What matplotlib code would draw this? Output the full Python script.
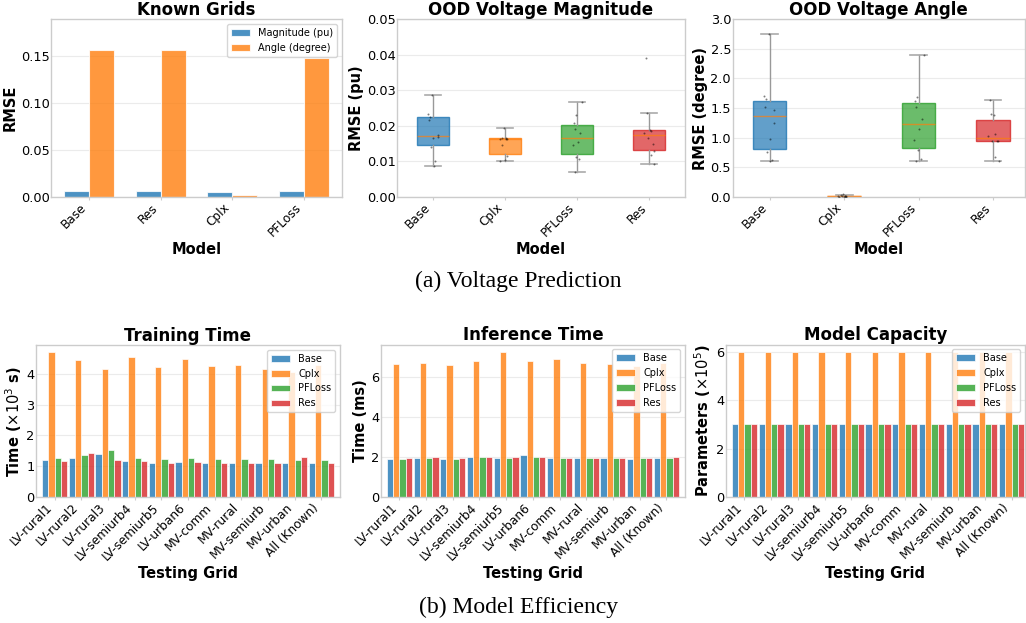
import numpy as np
import matplotlib
matplotlib.use('Agg')
import matplotlib.pyplot as plt
from matplotlib.colors import to_rgba

# ---- data ----
known_models = ['Base', 'Res', 'Cplx', 'PFLoss']
known_mag = [0.0065, 0.0065, 0.0055, 0.0062]
known_ang = [0.157, 0.157, 0.0025, 0.1485]

ood_models = ['Base', 'Cplx', 'PFLoss', 'Res']
mag_base = [0.0087, 0.0101, 0.0141, 0.0165, 0.0169, 0.0174, 0.0216, 0.0226, 0.0232, 0.0287]
mag_cplx = [0.0102, 0.0104, 0.0114, 0.0146, 0.0162, 0.0163, 0.0164, 0.0165, 0.0167, 0.0193]
mag_pfloss = [0.0070, 0.0106, 0.0113, 0.0147, 0.0154, 0.0179, 0.0192, 0.0207, 0.0229, 0.0266]
mag_res = [0.0094, 0.0118, 0.0128, 0.0148, 0.0167, 0.0179, 0.0186, 0.0188, 0.0236, 0.0390]
ang_base = [0.61, 0.62, 0.76, 0.98, 1.25, 1.47, 1.52, 1.65, 1.70, 2.74]
ang_cplx = [0.004, 0.006, 0.008, 0.010, 0.012, 0.014, 0.016, 0.020, 0.030, 0.055]
ang_pfloss = [0.60, 0.64, 0.785, 0.96, 1.15, 1.31, 1.51, 1.61, 1.68, 2.40]
ang_res = [0.615, 0.68, 0.94, 0.94, 0.95, 1.03, 1.06, 1.38, 1.40, 1.63]

grids = ['LV-rural1', 'LV-rural2', 'LV-rural3', 'LV-semiurb4', 'LV-semiurb5',
         'LV-urban6', 'MV-comm', 'MV-rural', 'MV-semiurb', 'MV-urban', 'All (Known)']
series = ['Base', 'Cplx', 'PFLoss', 'Res']
train_base = [1.19, 1.28, 1.41, 1.16, 1.12, 1.15, 1.12, 1.12, 1.12, 1.11, 1.10]
train_cplx = [4.70, 4.46, 4.14, 4.55, 4.23, 4.48, 4.24, 4.29, 4.17, 4.06, 4.30]
train_pfloss = [1.28, 1.36, 1.51, 1.26, 1.22, 1.25, 1.22, 1.22, 1.22, 1.21, 1.21]
train_res = [1.18, 1.44, 1.20, 1.17, 1.12, 1.15, 1.12, 1.12, 1.12, 1.30, 1.11]
inf_base = [1.90, 1.93, 1.92, 1.98, 1.95, 2.08, 1.93, 1.93, 1.95, 1.92, 1.95]
inf_cplx = [6.63, 6.67, 6.57, 6.78, 7.25, 6.77, 6.88, 6.67, 6.62, 6.53, 6.70]
inf_pfloss = [1.90, 1.93, 1.90, 1.98, 1.95, 2.02, 1.95, 1.95, 1.95, 1.93, 1.95]
inf_res = [1.93, 1.98, 1.93, 2.02, 1.98, 1.98, 1.97, 1.97, 1.97, 1.93, 1.98]
cap_base = [3.01] * 11
cap_cplx = [6.02] * 11
cap_pfloss = [3.01] * 11
cap_res = [3.01] * 11

colors = ['#1f77b4', '#ff7f0e', '#2ca02c', '#d62728']
W, H = 1026, 623


def box(l, t, r, b):
    return [l / W, 1 - b / H, (r - l) / W, (b - t) / H]


def style(ax):
    for s in ax.spines.values():
        s.set_color('#cccccc')
        s.set_linewidth(1.0)
    ax.grid(axis='y', color='#b0b0b0', alpha=0.25, linewidth=0.8)
    ax.set_axisbelow(True)
    ax.tick_params(axis='x', length=2, color='#cccccc', labelsize=8.7, pad=1)
    ax.tick_params(axis='y', length=0, labelsize=9.3, pad=1)


plt.rcParams['font.family'] = 'DejaVu Sans'
fig = plt.figure(figsize=(W / 100, H / 100), dpi=100)
lab = dict(fontsize=10.5, fontweight='bold', labelpad=2)

# ---- (a) known grids ----
ax = fig.add_axes(box(51, 19, 342, 197))
x = np.arange(len(known_models))
ax.bar(x - 0.175, known_mag, 0.35, color=colors[0], alpha=0.8, edgecolor='white', linewidth=0.8, label='Magnitude (pu)')
ax.bar(x + 0.175, known_ang, 0.35, color=colors[1], alpha=0.8, edgecolor='white', linewidth=0.8, label='Angle (degree)')
ax.set_xticks(x)
ax.set_xticklabels(known_models, rotation=45, ha='right')
ax.set_ylim(0, 0.19)
ax.set_yticks([0, 0.05, 0.10, 0.15])
ax.set_title('Known Grids', fontsize=12, fontweight='bold', pad=1)
ax.set_xlabel('Model', **lab)
ax.set_ylabel('RMSE', **lab)
ax.legend(loc='upper right', fontsize=7)
style(ax)


def boxes(ax, data, ylim, yticks, title, ylabel, right):
    rng = np.random.RandomState(3)
    pos = np.arange(1, len(data) + 1)
    bp = ax.boxplot(data, positions=pos, widths=0.45, patch_artist=True, showfliers=False,
                    whiskerprops=dict(color='#999999', linewidth=1),
                    capprops=dict(color='#aaaaaa', linewidth=1.2),
                    medianprops=dict(color='#ff7f0e', linewidth=1, alpha=0.7))
    for patch, c in zip(bp['boxes'], colors):
        patch.set_facecolor(to_rgba(c, 0.7))
        patch.set_edgecolor(to_rgba(c, 0.8))
    for p, d in zip(pos, data):
        jit = rng.uniform(-0.08, 0.08, len(d))
        ax.scatter(p + jit, d, s=2, color='black', alpha=0.5, zorder=3, linewidths=0)
    ax.set_xlim(0.5, right)
    ax.set_xticks(pos)
    ax.set_xticklabels(ood_models, rotation=45, ha='right')
    ax.set_ylim(*ylim)
    ax.set_yticks(yticks)
    ax.set_title(title, fontsize=12, fontweight='bold', pad=1)
    ax.set_xlabel('Model', **lab)
    ax.set_ylabel(ylabel, **lab)
    style(ax)


ax = fig.add_axes(box(397, 19, 685, 197))
boxes(ax, [mag_base, mag_cplx, mag_pfloss, mag_res], (0, 0.05),
      [0, 0.01, 0.02, 0.03, 0.04, 0.05], 'OOD Voltage Magnitude', 'RMSE (pu)', 4.5)
ax.yaxis.set_major_formatter(matplotlib.ticker.FormatStrFormatter('%.2f'))

ax = fig.add_axes(box(732.5, 19, 1025, 197))
boxes(ax, [ang_base, ang_cplx, ang_pfloss, ang_res], (0, 3),
      [0, 0.5, 1, 1.5, 2, 2.5, 3], 'OOD Voltage Angle', 'RMSE (degree)', 4.43)
ax.yaxis.set_major_formatter(matplotlib.ticker.FormatStrFormatter('%.1f'))


# ---- (b) efficiency ----
def grouped(ax, vals, title, ylabel, xright):
    x = np.arange(len(grids))
    w = 0.235
    for i, (name, v) in enumerate(zip(series, vals)):
        ax.bar(x + (i - 1.5) * w, v, w, color=colors[i], alpha=0.8, edgecolor='white',
               linewidth=0.6, label=name)
    ax.set_xticks(x)
    ax.set_xticklabels(grids, rotation=45, ha='right')
    ax.set_xlim(-0.7, xright)
    ax.set_title(title, fontsize=12, fontweight='bold', pad=3)
    ax.set_xlabel('Testing Grid', **lab)
    ax.set_ylabel(ylabel, **lab)
    ax.legend(loc='upper right', fontsize=7, framealpha=0.8)
    style(ax)


ax = fig.add_axes(box(36, 345, 340, 497))
grouped(ax, [train_base, train_cplx, train_pfloss, train_res], 'Training Time',
        r'Time ($\times 10^3$ s)', 10.7)
ax = fig.add_axes(box(380.7, 344.5, 685, 497))
grouped(ax, [inf_base, inf_cplx, inf_pfloss, inf_res], 'Inference Time', 'Time (ms)', 10.7)
ax = fig.add_axes(box(725.7, 344.5, 1025, 497))
grouped(ax, [cap_base, cap_cplx, cap_pfloss, cap_res], 'Model Capacity',
        r'Parameters ($\times 10^5$)', 10.5)

fig.text(0.505, 1 - 281 / H, '(a) Voltage Prediction', ha='center', va='center',
         fontsize=17, family='Liberation Serif')
fig.text(0.505, 1 - 607 / H, '(b) Model Efficiency', ha='center', va='center',
         fontsize=17, family='Liberation Serif')

fig.savefig('out.png', dpi=100)
